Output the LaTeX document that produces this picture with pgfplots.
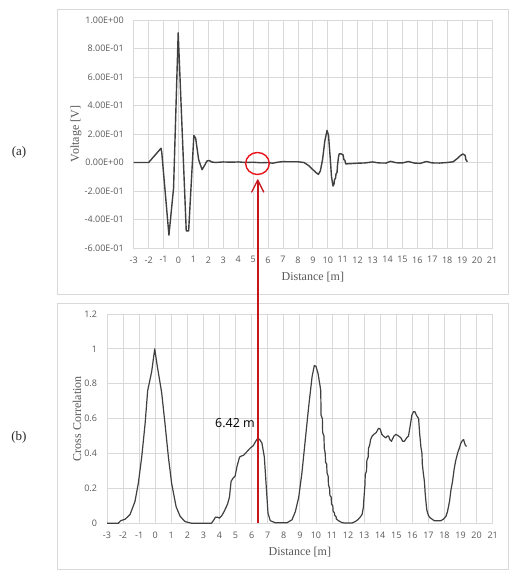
\documentclass[border=0pt]{standalone}
\usepackage{pgfplots}
\pgfplotsset{compat=1.18}
\usepackage{fontspec}
\setmainfont{Liberation Serif}
\newfontfamily\tickfont{Open Sans}
\usetikzlibrary{arrows.meta}
\definecolor{gridgray}{HTML}{D9D9D9}
\definecolor{txtgray}{HTML}{595959}
\definecolor{curve}{HTML}{404040}
\definecolor{linered}{RGB}{200,20,28}
\definecolor{brightred}{HTML}{E8141B}
\begin{document}
\begin{tikzpicture}[x=1pt,y=1pt]
\useasboundingbox (0pt,0pt) rectangle (520pt,580pt);
\fill[white] (0pt,0pt) rectangle (520pt,580pt);
\draw[gridgray, line width=0.8pt] (57pt,285.3pt) rectangle (508pt,571pt);
\draw[gridgray, line width=0.8pt] (57pt,11pt) rectangle (508pt,277pt);
\pgfplotsset{mystyle/.style={scale only axis, xmin=-3, xmax=21,
  xtick={-3,...,21},
  xticklabels={-3,-2,-1,0,1,2,3,4,5,6,7,8,9,10,11,12,13,14,15,16,17,18,19,20,21},
  grid=major, major grid style={gridgray, line width=0.8pt},
  axis line style={gridgray, line width=0.8pt},
  major tick length=0pt,
  tick label style={font=\tickfont\fontsize{9}{10}\selectfont, text=txtgray},
  xticklabel style={yshift=-5pt},
  yticklabel style={xshift=-6.5pt},
  label style={font=\fontsize{12}{14}\selectfont, text=txtgray}}}
\begin{axis}[mystyle, at={(133.7pt,332pt)}, anchor=south west,
  width=358.3pt, height=228pt, ymin=-0.6, ymax=1.0,
  ytick={-0.6,-0.4,-0.2,0,0.2,0.4,0.6,0.8,1},
  yticklabels={-6.00E-01,-4.00E-01,-2.00E-01,0.00E+00,2.00E-01,4.00E-01,6.00E-01,8.00E-01,1.00E+00},
  xlabel={Distance [m]}, ylabel={Voltage [V]},
  xlabel style={at={(axis description cs:0.5,-0.127)}, anchor=center},
  ylabel style={at={(axis description cs:-0.161,0.5)}, anchor=center}]
\addplot[curve, line width=1.4pt, line join=round] coordinates {
(-3,0) (-2,0) (-1.17,0.10) (-1.12,0.07) (-0.64,-0.51) (-0.33,-0.18)
(-0.02,0.91) (0.22,0.29) (0.52,-0.48) (0.68,-0.48) (1.03,0.19) (1.15,0.17)
(1.35,0.02) (1.58,-0.05) (1.75,-0.02) (1.9,0.01) (2.04,0.014) (2.25,0.003)
(2.5,0) (3.0,0.004) (3.5,0.002) (4.0,0.004) (4.5,0) (5.0,0.002) (5.5,-0.002)
(6.0,0) (6.3,-0.005) (6.7,0.003) (7.0,0.006) (7.5,0.005) (8.0,0.005) (8.4,0)
(8.7,-0.02) (9.0,-0.05) (9.2,-0.07) (9.37,-0.083) (9.5,-0.06) (9.65,0.02)
(9.8,0.15) (9.95,0.225) (10.05,0.19) (10.15,0.05) (10.25,-0.10) (10.35,-0.165)
(10.42,-0.15) (10.45,-0.12) (10.52,-0.11) (10.55,-0.08) (10.62,-0.07)
(10.65,-0.02) (10.72,0.04) (10.76,0.06) (10.9,0.06) (11.02,0.055) (11.08,0.02)
(11.15,0.015) (11.2,-0.01) (11.5,-0.008) (12.0,-0.005) (12.5,-0.003)
(13.0,0.004) (13.4,-0.003) (13.9,-0.004) (14.2,0.008) (14.6,-0.002)
(15.0,-0.003) (15.4,0.007) (15.8,-0.004) (16.2,-0.006) (16.6,0.007)
(17.0,-0.003) (17.5,-0.004) (18.0,0) (18.4,0.005) (18.7,0.03) (18.9,0.05)
(19.05,0.06) (19.2,0.05) (19.25,0.02) (19.35,0.005)
};
\coordinate (circ) at (axis cs:5.29,-0.007);
\end{axis}
\begin{axis}[mystyle, at={(107pt,56.7pt)}, anchor=south west,
  width=385.7pt, height=209.3pt, ymin=0, ymax=1.2, clip=false,
  ytick={0,0.2,0.4,0.6,0.8,1,1.2},
  yticklabels={0,0.2,0.4,0.6,0.8,1,1.2},
  xlabel={Distance [m]}, ylabel={Cross Correlation},
  xlabel style={at={(axis description cs:0.5,-0.14)}, anchor=center},
  ylabel style={at={(axis description cs:-0.078,0.5)}, anchor=center}]
\addplot[curve, line width=1.2pt, line join=round] coordinates {
(-3,0) (-2.3,0) (-2.15,0.015) (-1.88,0.023) (-1.57,0.05) (-1.26,0.125)
(-1.05,0.23) (-0.84,0.38) (-0.63,0.57) (-0.47,0.76) (-0.22,0.87) (-0.03,1.0)
(0.13,0.9) (0.4,0.75) (0.61,0.57) (0.82,0.38) (1.02,0.23) (1.3,0.095)
(1.55,0.04) (1.85,0.01) (2.27,0) (3.5,0) (3.65,0.02) (3.75,0.035) (3.87,0.035)
(4.0,0.03) (4.15,0.045) (4.3,0.07) (4.5,0.11) (4.62,0.15) (4.72,0.24)
(4.85,0.26) (4.97,0.27) (5.1,0.33) (5.25,0.38) (5.35,0.385) (5.5,0.39)
(5.7,0.41) (5.9,0.43) (6.1,0.445) (6.25,0.47) (6.38,0.487) (6.5,0.48)
(6.64,0.46) (6.79,0.38) (6.91,0.21) (7.02,0.057) (7.16,0.015) (7.47,0.003)
(8.2,0.003) (8.51,0.02) (8.72,0.067) (8.93,0.15) (9.13,0.29) (9.34,0.48)
(9.55,0.67) (9.76,0.84) (9.9,0.905) (10.0,0.9) (10.13,0.86) (10.27,0.78)
(10.30,0.76) (10.32,0.62) (10.40,0.60) (10.42,0.52) (10.50,0.50) (10.52,0.43)
(10.58,0.40) (10.60,0.35) (10.67,0.34) (10.69,0.29) (10.76,0.27) (10.78,0.22)
(10.85,0.20) (10.87,0.16) (10.95,0.15) (10.97,0.11) (11.05,0.10) (11.07,0.07)
(11.15,0.06) (11.17,0.045) (11.25,0.04) (11.27,0.025) (11.4,0.015)
(11.6,0.005) (11.75,0.002) (12.25,0.002) (12.45,0.01) (12.6,0.02)
(12.75,0.035) (12.87,0.05) (12.95,0.09) (12.97,0.12) (13.05,0.22) (13.07,0.28)
(13.15,0.30) (13.17,0.36) (13.25,0.38) (13.27,0.43) (13.35,0.45) (13.4,0.48)
(13.5,0.50) (13.6,0.51) (13.75,0.52) (13.9,0.545) (14.0,0.54) (14.1,0.51)
(14.2,0.5) (14.35,0.49) (14.45,0.50) (14.52,0.50) (14.6,0.48) (14.7,0.47)
(14.85,0.50) (14.98,0.51) (15.15,0.50) (15.29,0.49) (15.4,0.47) (15.5,0.47)
(15.65,0.49) (15.76,0.50) (15.85,0.55) (15.97,0.62) (16.07,0.64) (16.16,0.64)
(16.25,0.62) (16.39,0.60) (16.45,0.52) (16.53,0.44) (16.6,0.40) (16.62,0.34)
(16.68,0.29) (16.75,0.24) (16.8,0.17) (16.85,0.12) (16.9,0.076) (17.0,0.045)
(17.1,0.032) (17.36,0.015) (17.78,0.015) (17.95,0.025) (18.09,0.04)
(18.18,0.065) (18.25,0.096) (18.32,0.13) (18.4,0.19) (18.5,0.24) (18.6,0.31)
(18.7,0.36) (18.81,0.40) (18.92,0.43) (19.02,0.46) (19.12,0.475) (19.19,0.48)
(19.25,0.46) (19.29,0.45) (19.37,0.44)
};
\draw[color=linered, line width=1.7pt] (axis cs:6.38,0) -- (axis cs:6.38,1.96);
\draw[color=linered, line width=1.3pt, line cap=round] (axis cs:6.38,1.968) -- ++(-6pt,-12pt);
\draw[color=linered, line width=1.3pt, line cap=round] (axis cs:6.38,1.968) -- ++(6pt,-12pt);
\node[anchor=east, font=\tickfont\fontsize{12.5}{14}\selectfont, text=black, inner sep=0pt] at (axis cs:6.21,0.575) {6.42 m};
\end{axis}
\draw[draw=brightred, line width=1.4pt] (circ) circle[x radius=11.8pt, y radius=11pt];
\node[font=\fontsize{13}{15}\selectfont, text=black!85] at (19pt,427.5pt) {(a)};
\node[font=\fontsize{13}{15}\selectfont, text=black!85] at (19pt,142.5pt) {(b)};
\end{tikzpicture}
\end{document}
